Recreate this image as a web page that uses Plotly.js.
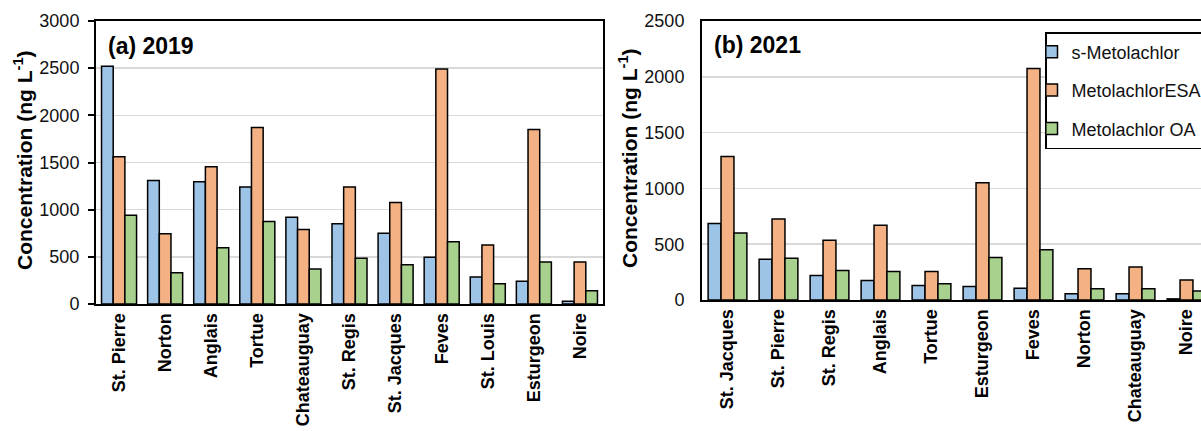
<!DOCTYPE html>
<html>
<head>
<meta charset="utf-8">
<script src="https://cdn.plot.ly/plotly-3.0.1.min.js"></script>
<style>
html, body { margin: 0; padding: 0; overflow: hidden; background: #fff; }
#chart { width: 1215px; height: 431px; }
</style>
</head>
<body>
<div id="chart"></div>
<script>
// ---- data ----
const seriesNames = ["s-Metolachlor", "MetolachlorESA", "Metolachlor OA"];
const seriesColors = ["#9dc3e6", "#f4b183", "#a9d18e"];

const sites2019 = ["St. Pierre", "Norton", "Anglais", "Tortue", "Chateauguay", "St. Regis",
                   "St. Jacques", "Feves", "St. Louis", "Esturgeon", "Noire"];
const sMeto2019 = [2520, 1310, 1295, 1240, 920, 850, 750, 495, 285, 240, 30];
const esa2019   = [1560, 745, 1455, 1870, 790, 1240, 1075, 2490, 625, 1850, 445];
const oa2019    = [940, 330, 595, 875, 370, 485, 415, 660, 215, 445, 140];

const sites2021 = ["St. Jacques", "St. Pierre", "St. Regis", "Anglais", "Tortue", "Esturgeon",
                   "Feves", "Norton", "Chateauguay", "Noire"];
const sMeto2021 = [685, 365, 220, 175, 130, 120, 105, 55, 55, 10];
const esa2021   = [1285, 725, 535, 670, 255, 1050, 2075, 280, 295, 180];
const oa2021    = [600, 375, 265, 255, 145, 380, 450, 100, 100, 80];

const yTickVals2019 = [0, 500, 1000, 1500, 2000, 2500, 3000];
const yTickVals2021 = [0, 500, 1000, 1500, 2000, 2500];

// ---- layout geometry (pixels in a 1215 x 431 paper) ----
const W = 1215, H = 431;
const px = v => v / W;
const py = v => 1 - v / H;

const values2019 = [sMeto2019, esa2019, oa2019];
const values2021 = [sMeto2021, esa2021, oa2021];

const traces = [];
seriesNames.forEach((name, i) => {
  traces.push({
    type: "bar", name: name, x: sites2019, y: values2019[i],
    xaxis: "x", yaxis: "y", legendgroup: name, showlegend: true,
    marker: { color: seriesColors[i], line: { color: "#000", width: 1.5 } },
    hoverinfo: "x+y+name"
  });
});
seriesNames.forEach((name, i) => {
  traces.push({
    type: "bar", name: name, x: sites2021, y: values2021[i],
    xaxis: "x2", yaxis: "y2", legendgroup: name, showlegend: false,
    marker: { color: seriesColors[i], line: { color: "#000", width: 1.5 } },
    hoverinfo: "x+y+name"
  });
});

const tickFont = { family: "Liberation Sans, Arial, sans-serif", size: 18, color: "#111" };
const catFont = { family: "Liberation Sans, Arial, sans-serif", size: 18, color: "#000", weight: "bold" };

const xCommon = {
  type: "category", showline: true, linecolor: "#000", linewidth: 2, mirror: true,
  ticks: "", tickangle: -90, tickfont: catFont, showgrid: false, zeroline: false,
  automargin: false, fixedrange: true
};
const yCommon = {
  showline: true, linecolor: "#000", linewidth: 2, mirror: true,
  showgrid: true, gridcolor: "#d9d9d9", gridwidth: 1.5, zeroline: false,
  tickfont: tickFont, dtick: 500, automargin: false, fixedrange: true
};

const layout = {
  width: W, height: H,
  margin: { l: 0, r: 0, t: 0, b: 0 },
  paper_bgcolor: "#fff", plot_bgcolor: "#fff",
  barmode: "group", bargap: 0.24, bargroupgap: 0,
  font: { family: "Liberation Sans, Arial, sans-serif", color: "#000" },
  xaxis: Object.assign({}, xCommon, {
    domain: [px(96), px(603)], anchor: "y", range: [-0.5, sites2019.length - 0.5]
  }),
  yaxis: Object.assign({}, yCommon, {
    domain: [py(304), py(21)], anchor: "x", range: [0, 3000], tickvals: yTickVals2019,
    ticks: "outside", ticklen: 6, tickwidth: 2, tickcolor: "#000", ticklabelstandoff: 5
  }),
  xaxis2: Object.assign({}, xCommon, {
    domain: [px(702), px(1212)], anchor: "y2", range: [-0.5, sites2021.length - 0.5]
  }),
  yaxis2: Object.assign({}, yCommon, {
    domain: [py(300), py(21)], anchor: "x2", range: [0, 2500], tickvals: yTickVals2021,
    ticks: "", ticklabelstandoff: 12
  }),
  showlegend: true,
  legend: {
    x: px(1045), y: py(32), xanchor: "left", yanchor: "top",
    bgcolor: "#fff", bordercolor: "#000", borderwidth: 1.5,
    font: { family: "Liberation Sans, Arial, sans-serif", size: 18, color: "#111" },
    traceorder: "grouped", tracegroupgap: 12, indentation: -15
  },
  annotations: [
    { text: "(a) 2019", xref: "paper", yref: "paper", x: px(106), y: py(46),
      xanchor: "left", yanchor: "middle", showarrow: false,
      font: { size: 23, weight: "bold", color: "#000" } },
    { text: "(b) 2021", xref: "paper", yref: "paper", x: px(712), y: py(45),
      xanchor: "left", yanchor: "middle", showarrow: false,
      font: { size: 23, weight: "bold", color: "#000" } },
    { text: "Concentration (ng L<sup>-1</sup>)", xref: "paper", yref: "paper",
      x: px(23), y: py(160), textangle: -90, showarrow: false,
      xanchor: "center", yanchor: "middle",
      font: { size: 21, weight: "bold", color: "#000" } },
    { text: "Concentration (ng L<sup>-1</sup>)", xref: "paper", yref: "paper",
      x: px(628), y: py(158), textangle: -90, showarrow: false,
      xanchor: "center", yanchor: "middle",
      font: { size: 21, weight: "bold", color: "#000" } }
  ]
};

Plotly.newPlot("chart", traces, layout, { displayModeBar: false, staticPlot: true });
</script>
</body>
</html>
